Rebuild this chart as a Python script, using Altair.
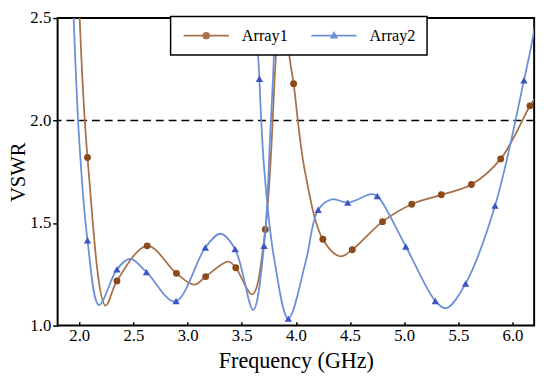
import altair as alt
import pandas as pd

# ---------------- data ----------------
series_names = ["Array1", "Array2"]
x_ticks = [2.0, 2.5, 3.0, 3.5, 4.0, 4.5, 5.0, 5.5, 6.0]
y_ticks = [1.0, 1.5, 2.0, 2.5]
ref_level = [2.0]

# Array1 markers
a1_f = [2.076, 2.348, 2.627, 2.897, 3.167, 3.445, 3.718, 3.979, 4.249, 4.521, 4.800, 5.070, 5.343, 5.621, 5.891, 6.161]
a1_v = [1.820, 1.218, 1.389, 1.255, 1.239, 1.282, 1.469, 2.180, 1.421, 1.370, 1.507, 1.592, 1.638, 1.688, 1.813, 2.072]
# Array1 smooth curve (path order)
c1_f = [1.995, 2.076, 2.243, 2.348, 2.627, 2.897, 3.061, 3.167, 3.375, 3.445, 3.597, 3.718, 3.818, 3.880,
        3.940, 3.979, 4.082, 4.249, 4.409, 4.521, 4.800, 5.070, 5.343, 5.621, 5.891, 6.161, 6.206]
c1_v = [2.620, 1.820, 1.098, 1.218, 1.389, 1.255, 1.200, 1.239, 1.312, 1.282, 1.152, 1.469, 2.332, 2.750,
        2.317, 2.180, 1.757, 1.421, 1.338, 1.370, 1.507, 1.592, 1.638, 1.688, 1.813, 2.072, 2.108]

# Array2 markers
a2_f = [2.076, 2.348, 2.621, 2.894, 3.164, 3.439, 3.706, 3.663, 3.930, 4.206, 4.479, 4.752, 5.015, 5.288, 5.567, 5.839, 6.106]
a2_v = [1.416, 1.274, 1.261, 1.120, 1.381, 1.373, 1.389, 2.204, 1.034, 1.565, 1.600, 1.632, 1.386, 1.120, 1.205, 1.585, 2.196]
# Array2 smooth curve (path order)
c2_f = [1.940, 2.000, 2.076, 2.182, 2.348, 2.470, 2.621, 2.885, 3.164, 3.303, 3.439, 3.606, 3.706, 3.760,
        3.800, 3.730, 3.648, 3.663, 3.709, 3.800, 3.930, 4.090, 4.206, 4.333, 4.479, 4.697, 4.752, 5.015,
        5.288, 5.388, 5.567, 5.839, 6.106, 6.206, 6.260]
c2_v = [2.620, 1.900, 1.416, 1.100, 1.274, 1.325, 1.261, 1.117, 1.381, 1.448, 1.373, 1.077, 1.389, 1.900,
        2.550, 2.850, 2.450, 2.204, 1.755, 1.325, 1.034, 1.310, 1.565, 1.616, 1.600, 1.641, 1.632, 1.386,
        1.120, 1.085, 1.205, 1.585, 2.196, 2.460, 2.750]

# ---------------- styles ----------------
line_colors = ["#a8714a", "#6b8fd8"]
marker_colors = ["#8a4a1a", "#3b55c6"]
FONT = "Liberation Serif"

c1 = pd.DataFrame({"f": c1_f, "v": c1_v, "k": list(range(len(c1_f)))})
c2 = pd.DataFrame({"f": c2_f, "v": c2_v, "k": list(range(len(c2_f)))})
m1 = pd.DataFrame({"f": a1_f, "v": a1_v})
m2 = pd.DataFrame({"f": a2_f, "v": a2_v})
ref = pd.DataFrame({"v": ref_level})
leg_df = pd.DataFrame({"series": series_names})

x_scale = alt.Scale(domain=[1.8, 6.2], nice=False, zero=False)
y_scale = alt.Scale(domain=[1.0, 2.5], nice=False, zero=False)

x_axis = alt.Axis(values=x_ticks, format=".1f", title="Frequency (GHz)", offset=-4, tickSize=4,
                  labelPadding=2, titlePadding=7, domain=False, grid=False,
                  labelFont=FONT, titleFont=FONT, labelFontSize=17, titleFontSize=22.5)
y_axis = alt.Axis(values=y_ticks, format=".1f", title="VSWR", tickSize=5, labelPadding=2,
                  titlePadding=1, domain=False, grid=False,
                  labelFont=FONT, titleFont=FONT, labelFontSize=17, titleFontSize=21)

X = alt.X("f:Q", scale=x_scale, axis=x_axis)
Y = alt.Y("v:Q", scale=y_scale, axis=y_axis)

ref_rule = alt.Chart(ref).mark_rule(color="black", strokeDash=[8, 5], strokeWidth=1.5).encode(
    y=alt.Y("v:Q", scale=y_scale, axis=y_axis))

line1 = alt.Chart(c1).mark_line(interpolate="catmull-rom", color=line_colors[0], strokeWidth=1.8,
                                clip=True).encode(x=X, y=Y, order="k:Q")
pts1 = alt.Chart(m1).mark_point(shape="circle", filled=True, size=49, color=marker_colors[0],
                                opacity=1).encode(x=X, y=Y)
line2 = alt.Chart(c2).mark_line(interpolate="catmull-rom", color=line_colors[1], strokeWidth=1.8,
                                clip=True).encode(x=X, y=Y, order="k:Q")
pts2 = alt.Chart(m2).mark_point(shape="triangle-up", filled=True, size=56, color=marker_colors[1],
                                opacity=1).encode(x=X, y=Y)

path_circle = "M-4.6,0L4.6,0M0.6,0A0.6,0.6,0,1,1,-0.6,0A0.6,0.6,0,1,1,0.6,0Z"
path_tri = "M-4.6,0L4.6,0M0,-0.62L0.58,0.42L-0.58,0.42Z"

legend = alt.Legend(title=None, orient="none", legendX=115, legendY=-1.5, direction="horizontal",
                    fillColor="white", strokeColor="black", padding=11, labelFont=FONT,
                    labelFontSize=16.5, labelColor="black", symbolSize=100, symbolStrokeWidth=1.6,
                    symbolOffset=17, labelOffset=28, columnPadding=20)

leg_layer = alt.Chart(leg_df).transform_filter("false").mark_point(
    filled=True, opacity=1, strokeWidth=1.6, size=100).encode(
    color=alt.Color("series:N", scale=alt.Scale(domain=series_names, range=line_colors), legend=legend),
    stroke=alt.Stroke("series:N", scale=alt.Scale(domain=series_names, range=line_colors), legend=legend),
    shape=alt.Shape("series:N", scale=alt.Scale(domain=series_names, range=[path_circle, path_tri]),
                    legend=legend),
)

chart = alt.layer(ref_rule, line1, pts1, line2, pts2, leg_layer).properties(
    width=485, height=313,
    autosize=alt.AutoSizeParams(type="none"),
    padding={"left": 50.5, "top": 7, "right": 8, "bottom": 45},
    background="white",
).configure_view(stroke="black", strokeWidth=2).configure_axis(
    labelFont=FONT, titleFont=FONT, labelFontSize=17, titleFontSize=21, titleFontWeight="normal",
    labelColor="black", titleColor="black", tickColor="black", tickWidth=1.5,
).configure_legend(strokeWidth=1.5)

chart.save("out.html", embed_options={"renderer": "svg", "actions": False})
